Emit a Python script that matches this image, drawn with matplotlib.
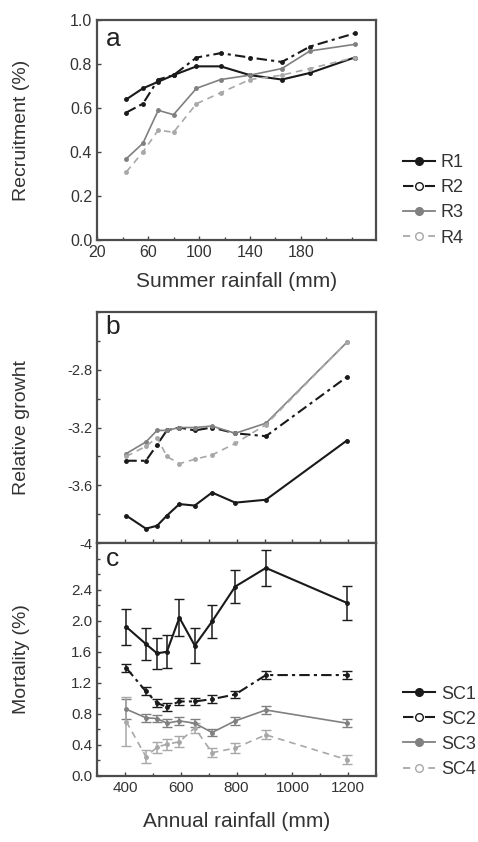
import numpy as np
import matplotlib.pyplot as plt
from matplotlib.lines import Line2D
from matplotlib.ticker import MultipleLocator

plt.rcParams['font.family'] = ['Liberation Sans', 'DejaVu Sans']

# panel a: recruitment vs summer rainfall
summer_rain = [43, 56, 68, 80, 98, 117, 140, 165, 187, 222]
rec_r1 = [0.64, 0.69, 0.72, 0.75, 0.79, 0.79, 0.75, 0.73, 0.76, 0.83]
rec_r2 = [0.58, 0.62, 0.73, 0.75, 0.83, 0.85, 0.83, 0.81, 0.88, 0.94]
rec_r3 = [0.37, 0.44, 0.59, 0.57, 0.69, 0.73, 0.75, 0.78, 0.86, 0.89]
rec_r4 = [0.31, 0.40, 0.50, 0.49, 0.62, 0.67, 0.73, 0.75, 0.78, 0.83]

# panels b and c: annual rainfall
annual_rain = [405, 475, 515, 550, 595, 650, 712, 795, 905, 1195]
grow_1 = [-3.81, -3.90, -3.88, -3.81, -3.73, -3.74, -3.65, -3.72, -3.70, -3.29]
grow_2 = [-3.43, -3.43, -3.32, -3.22, -3.20, -3.22, -3.20, -3.24, -3.26, -2.85]
grow_3 = [-3.38, -3.30, -3.22, -3.22, -3.20, -3.20, -3.19, -3.24, -3.17, -2.61]
grow_4 = [-3.40, -3.33, -3.27, -3.40, -3.45, -3.42, -3.39, -3.31, -3.18, -2.61]

mort_1 = [1.92, 1.70, 1.58, 1.60, 2.04, 1.68, 1.99, 2.44, 2.68, 2.23]
mort_1_err = [0.23, 0.21, 0.20, 0.21, 0.24, 0.22, 0.21, 0.21, 0.23, 0.22]
mort_2 = [1.39, 1.09, 0.94, 0.89, 0.96, 0.96, 0.99, 1.05, 1.30, 1.30]
mort_2_err = [0.05, 0.05, 0.05, 0.05, 0.05, 0.05, 0.05, 0.05, 0.05, 0.05]
mort_3 = [0.86, 0.75, 0.74, 0.68, 0.71, 0.68, 0.56, 0.71, 0.85, 0.68]
mort_3_err = [0.13, 0.05, 0.05, 0.05, 0.05, 0.05, 0.05, 0.05, 0.05, 0.05]
mort_4 = [0.70, 0.25, 0.37, 0.41, 0.44, 0.62, 0.30, 0.36, 0.53, 0.21]
mort_4_err = [0.32, 0.08, 0.07, 0.07, 0.07, 0.06, 0.06, 0.06, 0.06, 0.06]

BLACK = '#1a1a1a'
GRAY = '#808080'
LIGHT = '#a8a8a8'
DASH2 = (0, (5, 2, 1.5, 2))
DASH4 = (0, (4, 3))

styles = [
    dict(color=BLACK, ls='-', lw=1.5),
    dict(color=BLACK, ls=DASH2, lw=1.5),
    dict(color=GRAY, ls='-', lw=1.2),
    dict(color=LIGHT, ls=DASH4, lw=1.2),
]

fig = plt.figure(figsize=(4.78, 8.42), dpi=100)
ax_a = fig.add_axes([0.203, 0.715, 0.584, 0.261])
ax_b = fig.add_axes([0.203, 0.355, 0.584, 0.2745])
ax_c = fig.add_axes([0.203, 0.0784, 0.584, 0.2766])


def style_axes(ax):
    for sp in ax.spines.values():
        sp.set_linewidth(1.6)
        sp.set_color('#4d4d4d')
    ax.tick_params(direction='in', length=3, width=1, color='#444444',
                   labelcolor='#333333', labelsize=10.5, top=False, right=False)
    ax.tick_params(which='minor', direction='in', length=2, width=1, color='#444444')
    ax.yaxis.set_label_coords(-0.24, 0.5)


# panel a
for ys, st in zip([rec_r1, rec_r2, rec_r3, rec_r4], styles):
    ax_a.plot(summer_rain, ys, marker='o', ms=2.5, mfc=st['color'], mec=st['color'], **st)
ax_a.set_xlim(20, 239)
ax_a.set_ylim(0, 1.0)
ax_a.set_xticks([20, 60, 100, 140, 180])
ax_a.xaxis.set_minor_locator(MultipleLocator(20))
ax_a.set_yticks(np.arange(0, 1.01, 0.2))
ax_a.set_yticklabels(['0.0', '0.2', '0.4', '0.6', '0.8', '1.0'])
style_axes(ax_a)
ax_a.tick_params(labelsize=11.5)
ax_a.set_xlabel('Summer rainfall (mm)', fontsize=15, color='#333333', labelpad=9)
ax_a.set_ylabel('Recruitment (%)', fontsize=14, color='#333333')
ax_a.text(0.03, 0.97, 'a', transform=ax_a.transAxes, fontsize=19, va='top', color='#222222')

# panel b
for ys, st in zip([grow_1, grow_2, grow_3, grow_4], styles):
    ax_b.plot(annual_rain, ys, marker='o', ms=2.5, mfc=st['color'], mec=st['color'], **st)
ax_b.set_xlim(300, 1300)
ax_b.set_ylim(-4, -2.4)
ax_b.set_yticks([-4, -3.6, -3.2, -2.8])
ax_b.set_yticklabels(['-4', '-3.6', '-3.2', '-2.8'])
ax_b.yaxis.set_minor_locator(MultipleLocator(0.2))
ax_b.set_xticks(np.arange(400, 1201, 100))
ax_b.tick_params(labelbottom=False)
style_axes(ax_b)
ax_b.set_ylabel('Relative growht', fontsize=14, color='#333333')
ax_b.text(0.03, 0.985, 'b', transform=ax_b.transAxes, fontsize=19, va='top', color='#222222')

# panel c
for ys, err, st in zip([mort_1, mort_2, mort_3, mort_4],
                       [mort_1_err, mort_2_err, mort_3_err, mort_4_err], styles):
    ax_c.errorbar(annual_rain, ys, yerr=err, marker='o', ms=2.5, mfc=st['color'],
                  mec=st['color'], capsize=3.5, elinewidth=1.1, ecolor=st['color'], **st)
ax_c.set_xlim(300, 1300)
ax_c.set_ylim(0, 3.0)
ax_c.set_xticks([400, 600, 800, 1000, 1200])
ax_c.xaxis.set_minor_locator(MultipleLocator(100))
ax_c.set_yticks(np.arange(0, 2.41, 0.4))
ax_c.set_yticklabels(['0.0', '0.4', '0.8', '1.2', '1.6', '2.0', '2.4'])
ax_c.yaxis.set_minor_locator(MultipleLocator(0.2))
style_axes(ax_c)
ax_c.tick_params(labelsize=11)
ax_c.set_xlabel('Annual rainfall (mm)', fontsize=15, color='#333333', labelpad=12)
ax_c.set_ylabel('Mortality (%)', fontsize=14, color='#333333')
ax_c.text(0.03, 0.985, 'c', transform=ax_c.transAxes, fontsize=19, va='top', color='#222222')


def legend_handles():
    return [
        Line2D([], [], color=BLACK, ls='-', lw=1.5, marker='o', ms=5.5, mfc=BLACK, mec=BLACK),
        Line2D([], [], color=BLACK, ls=DASH2, lw=1.5, marker='o', ms=5.5, mfc='white', mec=BLACK),
        Line2D([], [], color=GRAY, ls='-', lw=1.3, marker='o', ms=5.5, mfc=GRAY, mec=GRAY),
        Line2D([], [], color=LIGHT, ls=DASH4, lw=1.3, marker='o', ms=5.5, mfc='white', mec=LIGHT),
    ]


leg_a = ax_a.legend(legend_handles(), ['R1', 'R2', 'R3', 'R4'], loc='center left',
                    bbox_to_anchor=(1.07, 0.18), frameon=False, fontsize=13,
                    handlelength=1.8, handletextpad=0.3, labelspacing=0.45, borderaxespad=0)
leg_c = ax_c.legend(legend_handles(), ['SC1', 'SC2', 'SC3', 'SC4'], loc='center left',
                    bbox_to_anchor=(1.07, 0.19), frameon=False, fontsize=13,
                    handlelength=1.8, handletextpad=0.3, labelspacing=0.45, borderaxespad=0)
for leg in (leg_a, leg_c):
    for t in leg.get_texts():
        t.set_color('#333333')

fig.savefig('out.png', dpi=100)
